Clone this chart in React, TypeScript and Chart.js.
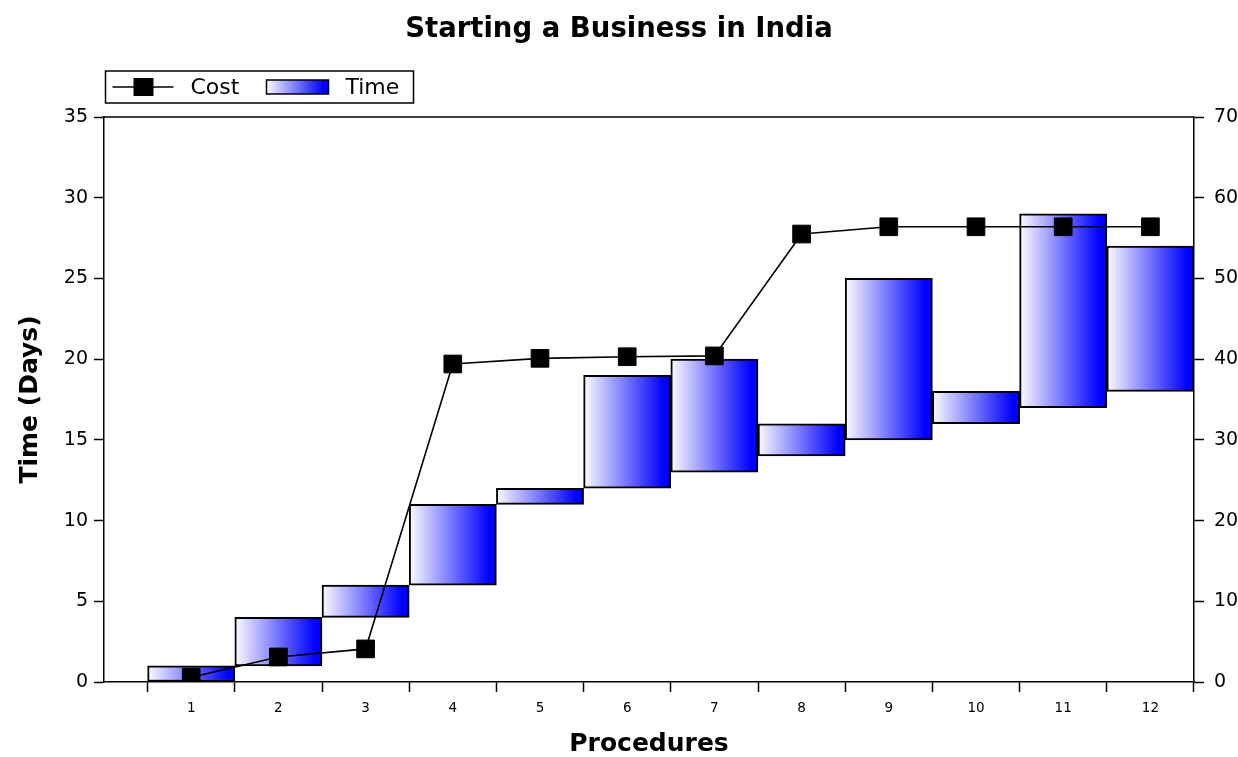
import React, { useEffect, useRef } from 'react';
import { Chart, registerables } from 'chart.js';

Chart.register(...registerables);

const chartTitle = 'Starting a Business in India';
const xTitle = 'Procedures';
const yTitle = 'Time (Days)';
const procedures = ['1', '2', '3', '4', '5', '6', '7', '8', '9', '10', '11', '12'];
const timeStart = [0, 1, 4, 6, 11, 12, 13, 14, 15, 16, 17, 18];
const timeEnd = [1, 4, 6, 11, 12, 19, 20, 16, 25, 18, 29, 27];
const cost = [0.6, 3.1, 4.1, 39.4, 40.1, 40.3, 40.4, 55.5, 56.4, 56.4, 56.4, 56.4];
const timeAxis = { min: 0, max: 35, step: 5 };
const costAxis = { min: 0, max: 70, step: 10 };

const GRAD_LIGHT = '#ffffff';
const GRAD_DARK = '#0000ff';
const FONT = '"DejaVu Sans", sans-serif';

function makeGradient(ctx: CanvasRenderingContext2D, x0: number, x1: number) {
  const g = ctx.createLinearGradient(x0, 0, x1, 0);
  g.addColorStop(0, GRAD_LIGHT);
  g.addColorStop(0.05, '#eeeeff');
  g.addColorStop(0.92, GRAD_DARK);
  g.addColorStop(1, GRAD_DARK);
  return g;
}

const frameLegendPlugin = {
  id: 'frameLegend',
  afterDraw(chart: any) {
    const { ctx, chartArea: a } = chart;
    ctx.save();
    ctx.strokeStyle = '#000';
    ctx.lineWidth = 1.5;
    ctx.beginPath();
    ctx.moveTo(a.left, a.top);
    ctx.lineTo(a.right, a.top);
    ctx.stroke();

    // legend box
    const lx = a.left + 1.5;
    const ly = a.top - 46;
    const lw = 308;
    const lh = 32;
    ctx.fillStyle = '#fff';
    ctx.fillRect(lx, ly, lw, lh);
    ctx.lineWidth = 1.5;
    ctx.strokeRect(lx, ly, lw, lh);
    const cy = ly + lh / 2;
    const costLabel = chart.data.datasets[0].label;
    const timeLabel = chart.data.datasets[1].label;
    // cost icon
    ctx.lineWidth = 1.5;
    ctx.beginPath();
    ctx.moveTo(lx + 7, cy);
    ctx.lineTo(lx + 68, cy);
    ctx.stroke();
    ctx.fillStyle = '#000';
    ctx.fillRect(lx + 28, cy - 9, 20, 18);
    ctx.font = '22px ' + FONT;
    ctx.textBaseline = 'middle';
    ctx.textAlign = 'left';
    ctx.fillText(costLabel, lx + 85, cy + 1);
    // time icon
    const tx = lx + 161;
    ctx.fillStyle = makeGradient(ctx, tx, tx + 62);
    ctx.fillRect(tx, cy - 7, 62, 14);
    ctx.strokeStyle = '#000';
    ctx.lineWidth = 1.5;
    ctx.strokeRect(tx, cy - 7, 62, 14);
    ctx.fillStyle = '#000';
    ctx.fillText(timeLabel, lx + 240, cy + 1);
    ctx.restore();
  },
};

export default function App() {
  const ref = useRef<HTMLCanvasElement | null>(null);

  useEffect(() => {
    if (!ref.current) return;
    const xTicks: number[] = procedures.map((_, i) => i + 1);

    const chart = new Chart(ref.current, {
      type: 'bar',
      data: {
        datasets: [
          {
            type: 'line',
            label: 'Cost',
            data: cost.map((c, i) => ({ x: i + 1, y: c })),
            yAxisID: 'y1',
            xAxisID: 'x',
            borderColor: '#000',
            borderWidth: 1.6,
            backgroundColor: '#000',
            pointStyle: 'rect',
            pointRadius: 12.5,
            pointBackgroundColor: '#000',
            pointBorderColor: '#000',
            pointBorderWidth: 1,
            tension: 0,
            order: 0,
          } as any,
          {
            type: 'bar',
            label: 'Time',
            data: timeStart.map((s, i) => ({ x: i + 1, y: [s, timeEnd[i]] })),
            yAxisID: 'y',
            xAxisID: 'x',
            borderColor: '#000',
            borderWidth: 2,
            borderSkipped: false,
            barPercentage: 1,
            categoryPercentage: 1,
            grouped: false,
            backgroundColor: (c: any) => {
              const ch = c.chart;
              const sx = ch.scales && ch.scales.x;
              if (!ch.chartArea || !sx || c.type !== 'data') return GRAD_DARK;
              const half = (sx.getPixelForValue(1) - sx.getPixelForValue(0)) / 2;
              const cx = sx.getPixelForValue(c.dataIndex + 1);
              return makeGradient(ch.ctx, cx - half, cx + half);
            },
            order: 1,
          } as any,
        ],
      },
      options: {
        responsive: false,
        animation: false,
        events: [],
        layout: { padding: 0 },
        plugins: {
          legend: { display: false },
          tooltip: { enabled: false },
          title: {
            display: true,
            text: chartTitle,
            color: '#000',
            font: { family: FONT, size: 27.5, weight: 'bold', lineHeight: 1.2 },
            padding: { top: 13.5, bottom: 70.5 },
          },
        },
        scales: {
          x: {
            type: 'linear',
            position: 'bottom',
            min: 0,
            max: procedures.length + 0.5,
            offset: false,
            afterBuildTicks: (s: any) => {
              s.ticks = xTicks.map((v) => ({ value: v }));
            },
            afterFit: (s: any) => {
              s.height = 75;
            },
            grid: {
              offset: true,
              drawOnChartArea: false,
              drawTicks: true,
              tickLength: 10,
              tickWidth: 1.5,
              tickColor: '#000',
            },
            border: { color: '#000', width: 1.5 },
            ticks: {
              autoSkip: false,
              maxRotation: 0,
              minRotation: 0,
              padding: 8.5,
              color: '#000',
              font: { family: FONT, size: 13.5 },
              callback: (v: any) => procedures[v - 1],
            },
            title: {
              display: true,
              text: xTitle,
              color: '#000',
              font: { family: FONT, size: 25, weight: 'bold', lineHeight: 1 },
              padding: { top: 0, bottom: 0.5 },
            },
          },
          y: {
            type: 'linear',
            position: 'left',
            min: timeAxis.min,
            max: timeAxis.max,
            afterFit: (s: any) => {
              s.width = 104;
            },
            grid: {
              drawOnChartArea: false,
              drawTicks: true,
              tickLength: 10,
              tickWidth: 1.5,
              tickColor: '#000',
            },
            border: { color: '#000', width: 1.5 },
            ticks: {
              stepSize: timeAxis.step,
              padding: 6,
              color: '#000',
              font: { family: FONT, size: 19 },
            },
            title: {
              display: true,
              text: yTitle,
              color: '#000',
              font: { family: FONT, size: 25, weight: 'bold', lineHeight: 1.2 },
              padding: { top: 15, bottom: 0 },
            },
          },
          y1: {
            type: 'linear',
            position: 'right',
            min: costAxis.min,
            max: costAxis.max,
            afterFit: (s: any) => {
              s.width = 44;
            },
            grid: {
              drawOnChartArea: false,
              drawTicks: true,
              tickLength: 10,
              tickWidth: 1.5,
              tickColor: '#000',
            },
            border: { color: '#000', width: 1.5 },
            ticks: {
              stepSize: costAxis.step,
              padding: 10,
              color: '#000',
              font: { family: FONT, size: 19 },
            },
          },
        },
      } as any,
      plugins: [frameLegendPlugin],
    });
    return () => chart.destroy();
  }, []);

  return (
    <div style={{ position: 'fixed', left: 0, top: 0, width: 1238, height: 757, background: '#fff' }}>
      <canvas ref={ref} width={1238} height={757} style={{ display: 'block' }} />
    </div>
  );
}
